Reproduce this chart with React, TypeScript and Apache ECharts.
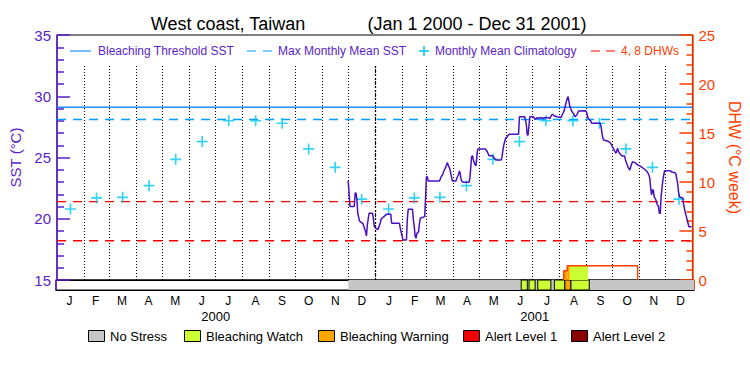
import React, { useEffect, useRef } from 'react';
import * as echarts from 'echarts';

// ---------- data ----------
const titlePlace = 'West coast, Taiwan';
const titleRange = '(Jan 1 2000 - Dec 31 2001)';
const monthLetters = ['J', 'F', 'M', 'A', 'M', 'J', 'J', 'A', 'S', 'O', 'N', 'D'];
const years = [2000, 2001];

// Monthly mean climatology (SST, deg C), Jan..Dec
const climatology = [20.8, 21.7, 21.75, 22.7, 24.85, 26.3, 28.0, 28.0, 27.8, 25.7, 24.2, 21.6];
const bleachingThreshold = 29.1;
const maxMonthlyMean = 28.1;
const dhwLevels = [4, 8];

// Satellite SST (deg C)
const sstDates = [
  '2000-12-01', '2000-12-02', '2000-12-03', '2000-12-08', '2000-12-09', '2000-12-10', '2000-12-11', '2000-12-12',
  '2000-12-14', '2000-12-18', '2000-12-21', '2000-12-22', '2000-12-23', '2000-12-25', '2000-12-29', '2000-12-30',
  '2000-12-31', '2001-01-04', '2001-01-05', '2001-01-07', '2001-01-08', '2001-01-10', '2001-01-14', '2001-01-19',
  '2001-01-20', '2001-01-29', '2001-01-30', '2001-01-31', '2001-02-02', '2001-02-06', '2001-02-07', '2001-02-08',
  '2001-02-13', '2001-02-14', '2001-02-15', '2001-02-16', '2001-02-17', '2001-02-18', '2001-02-20', '2001-02-21',
  '2001-02-22', '2001-02-27', '2001-02-28', '2001-03-01', '2001-03-02', '2001-03-03', '2001-03-16', '2001-03-17',
  '2001-03-18', '2001-03-20', '2001-03-21', '2001-03-23', '2001-03-25', '2001-03-26', '2001-03-28', '2001-03-29',
  '2001-03-30', '2001-03-31', '2001-04-04', '2001-04-05', '2001-04-07', '2001-04-08', '2001-04-09', '2001-04-10',
  '2001-04-12', '2001-04-19', '2001-04-20', '2001-04-22', '2001-04-23', '2001-04-24', '2001-04-26', '2001-04-27',
  '2001-04-28', '2001-04-29', '2001-05-08', '2001-05-10', '2001-05-12', '2001-05-16', '2001-05-18', '2001-05-20',
  '2001-05-26', '2001-05-27', '2001-05-28', '2001-05-29', '2001-05-31', '2001-06-02', '2001-06-04', '2001-06-15',
  '2001-06-16', '2001-06-22', '2001-06-23', '2001-06-24', '2001-06-25', '2001-06-26', '2001-06-27', '2001-06-28',
  '2001-07-02', '2001-07-04', '2001-07-05', '2001-07-06', '2001-07-08', '2001-07-10', '2001-07-11', '2001-07-13',
  '2001-07-15', '2001-07-19', '2001-07-21', '2001-07-23', '2001-07-24', '2001-07-26', '2001-07-29', '2001-08-02',
  '2001-08-03', '2001-08-04', '2001-08-06', '2001-08-07', '2001-08-08', '2001-08-09', '2001-08-10', '2001-08-11',
  '2001-08-12', '2001-08-13', '2001-08-14', '2001-08-15', '2001-08-17', '2001-08-19', '2001-08-21', '2001-08-23',
  '2001-08-31', '2001-09-01', '2001-09-02', '2001-09-03', '2001-09-06', '2001-09-07', '2001-09-17', '2001-09-18',
  '2001-09-19', '2001-09-20', '2001-09-21', '2001-09-25', '2001-09-27', '2001-09-29', '2001-09-30', '2001-10-02',
  '2001-10-04', '2001-10-05', '2001-10-07', '2001-10-08', '2001-10-10', '2001-10-12', '2001-10-15', '2001-10-16',
  '2001-10-18', '2001-10-19', '2001-10-21', '2001-10-22', '2001-10-24', '2001-10-27', '2001-10-30', '2001-11-02',
  '2001-11-04', '2001-11-07', '2001-11-10', '2001-11-12', '2001-11-13', '2001-11-14', '2001-11-15', '2001-11-16',
  '2001-11-17', '2001-11-18', '2001-11-20', '2001-11-21', '2001-11-23', '2001-11-24', '2001-11-25', '2001-11-26',
  '2001-11-28', '2001-11-29', '2001-11-30', '2001-12-06', '2001-12-08', '2001-12-12', '2001-12-13', '2001-12-15',
  '2001-12-16', '2001-12-17', '2001-12-21', '2001-12-22', '2001-12-24', '2001-12-25', '2001-12-26', '2001-12-28',
  '2001-12-31',
];
const sstValues = [
  23.1, 22.1, 21.0, 21.0, 22.1, 22.1, 21.6, 20.45,
  19.8, 19.6, 18.95, 18.6, 19.5, 20.45, 20.45, 20.0,
  19.35, 19.1, 19.25, 19.7, 20.0, 20.1, 20.36, 20.36,
  19.63, 19.63, 19.2, 18.9, 18.27, 18.27, 19.9, 20.77,
  20.77, 19.9, 19.35, 18.6, 18.4, 18.8, 18.95, 19.63,
  20.04, 20.17, 21.67, 23.43, 23.43, 23.08, 23.08, 23.25,
  23.43, 23.65, 23.9, 24.17, 24.58, 24.4, 24.06, 23.71,
  23.35, 23.08, 23.08, 23.3, 23.63, 23.9, 23.63, 23.16,
  22.97, 22.97, 23.3, 25.07, 25.15, 24.8, 24.39, 24.34,
  25.07, 25.69, 25.69, 25.47, 25.15, 25.15, 24.93, 24.8,
  24.8, 25.07, 25.6, 26.02, 26.56, 26.7, 26.9, 26.9,
  28.33, 28.33, 28.06, 27.65, 26.84, 26.84, 27.65, 28.33,
  28.33, 28.12, 28.12, 28.25, 28.2, 28.25, 28.25, 28.2,
  28.25, 28.25, 28.2, 28.47, 28.53, 28.41, 28.33, 28.28,
  28.28, 28.47, 28.74, 29.0, 29.29, 29.56, 29.83, 29.97,
  29.56, 29.15, 29.0, 28.8, 28.6, 28.33, 28.47, 28.8,
  28.82, 28.74, 28.47, 28.2, 27.98, 27.79, 27.79, 27.51,
  26.97, 26.56, 26.43, 26.35, 26.29, 26.16, 26.02, 25.75,
  25.47, 25.34, 25.75, 25.47, 25.29, 25.12, 25.12, 24.8,
  24.39, 24.2, 23.98, 24.25, 24.66, 24.58, 24.39, 24.3,
  24.2, 24.04, 23.84, 23.57, 23.3, 22.48, 21.94, 22.35,
  22.35, 21.8, 21.53, 21.26, 20.99, 20.44, 20.44, 21.8,
  23.16, 23.57, 23.92, 23.92, 23.82, 23.76, 23.65, 22.89,
  22.2, 21.8, 21.67, 21.12, 20.44, 20.17, 19.9, 19.35,
  19.35,
];

// Degree heating weeks (deg C week), step values
const dhwDates = ['2001-08-06', '2001-08-06', '2001-08-10', '2001-10-30'];
const dhwValues = [0, 0.95, 1.46, 0];

// Area under DHW coloured by stress level
const dhwFillStart = ['2001-08-06', '2001-08-10', '2001-08-13'];
const dhwFillEnd = ['2001-08-10', '2001-08-13', '2001-09-03'];
const dhwFillValue = [0.95, 1.46, 1.46];
const dhwFillLevel = [2, 2, 1];

// Stress level bar: 0 no stress, 1 watch, 2 warning, 3 alert 1, 4 alert 2
const stressStart = ['2000-12-01', '2001-06-17', '2001-06-26', '2001-07-06', '2001-07-25', '2001-08-06', '2001-08-13'];
const stressEnd = ['2002-01-01', '2001-06-24', '2001-07-03', '2001-07-21', '2001-08-06', '2001-08-13', '2001-09-03'];
const stressLevel = [0, 1, 1, 1, 1, 2, 1];
const stressNames = ['No Stress', 'Bleaching Watch', 'Bleaching Warning', 'Alert Level 1', 'Alert Level 2'];

// ---------- style ----------
const FONT = 'Liberation Sans, Arial, sans-serif';
const PURPLE = '#5a1ec8';
const LINE_PURPLE = '#4a10c0';
const ORANGE = '#ff4000';
const BLUE = '#1e90ff';
const MMM_BLUE = '#00a0ff';
const CYAN = '#00c8f0';
const RED = '#ff0000';
const STRESS_COLORS = ['#c6c6c6', '#ccff33', '#ffa500', '#f00000', '#8b0000'];

const ts = (s: string) => {
  const [y, m, d] = s.split('-').map(Number);
  return new Date(y, m - 1, d).getTime();
};
const T0 = new Date(years[0], 0, 1).getTime();
const T1 = new Date(years[years.length - 1] + 1, 0, 1).getTime();

const monthStarts: number[] = [];
const monthMids: number[] = [];
years.forEach((y) => {
  for (let m = 0; m < 12; m++) {
    const a = new Date(y, m, 1).getTime();
    const b = new Date(y, m + 1, 1).getTime();
    if (a > T0) monthStarts.push(a);
    monthMids.push((a + b) / 2);
  }
});
const yearStarts = years.slice(1).map((y) => new Date(y, 0, 1).getTime());
const yearMids = years.map((y) => (new Date(y, 0, 1).getTime() + new Date(y + 1, 0, 1).getTime()) / 2);

const PLUS = 'path://M8.5,0H11.5V8.5H20V11.5H11.5V20H8.5V11.5H0V8.5H8.5Z';

function rectItem(params: any, api: any) {
  const p0 = api.coord([api.value(0), api.value(3)]);
  const p1 = api.coord([api.value(1), api.value(2)]);
  const lvl = api.value(4);
  const stroked = api.value(5) === 1 && lvl > 0;
  return {
    type: 'rect',
    shape: { x: p0[0], y: p0[1], width: p1[0] - p0[0], height: p1[1] - p0[1] },
    style: { fill: STRESS_COLORS[lvl], stroke: stroked ? '#000' : null, lineWidth: 1 },
  };
}

function hline(name: string, yAxisIndex: number, v: number, color: string, type: any) {
  return {
    type: 'line', name, xAxisIndex: 0, yAxisIndex, data: [[T0, v], [T1, v]],
    showSymbol: false, silent: true, z: 3,
    lineStyle: { color, width: 1.4, type },
  };
}

function buildOption() {
  const legendY = 51;
  const bottomLegendX = [88, 184, 318, 463, 571];
  const graphic: any[] = [
    { type: 'text', x: 228, y: 24, style: { text: titlePlace, align: 'center', verticalAlign: 'middle', fontSize: 18, fontFamily: FONT, fill: '#000' } },
    { type: 'text', x: 477, y: 24, style: { text: titleRange, align: 'center', verticalAlign: 'middle', fontSize: 18, fontFamily: FONT, fill: '#000' } },
    { type: 'line', shape: { x1: 70, y1: legendY, x2: 91, y2: legendY }, style: { stroke: BLUE, lineWidth: 1.2 } },
    { type: 'text', x: 98, y: legendY, style: { text: 'Bleaching Threshold SST', verticalAlign: 'middle', fontSize: 12, fontFamily: FONT, fill: PURPLE } },
    { type: 'line', shape: { x1: 247, y1: legendY, x2: 272, y2: legendY }, style: { stroke: MMM_BLUE, lineWidth: 1.2, lineDash: [9, 7] } },
    { type: 'text', x: 278, y: legendY, style: { text: 'Max Monthly Mean SST', verticalAlign: 'middle', fontSize: 12, fontFamily: FONT, fill: PURPLE } },
    { type: 'line', shape: { x1: 419, y1: legendY, x2: 429, y2: legendY }, style: { stroke: CYAN, lineWidth: 1.5 } },
    { type: 'line', shape: { x1: 424, y1: legendY - 5, x2: 424, y2: legendY + 5 }, style: { stroke: CYAN, lineWidth: 1.5 } },
    { type: 'text', x: 435, y: legendY, style: { text: 'Monthly Mean Climatology', verticalAlign: 'middle', fontSize: 12, fontFamily: FONT, fill: PURPLE } },
    { type: 'line', shape: { x1: 591, y1: legendY, x2: 615, y2: legendY }, style: { stroke: RED, lineWidth: 1.2, lineDash: [9, 6] } },
    { type: 'text', x: 621, y: legendY, style: { text: '4, 8 DHWs', verticalAlign: 'middle', fontSize: 12, fontFamily: FONT, fill: ORANGE } },
  ];
  stressNames.forEach((name, i) => {
    const x = bottomLegendX[i];
    graphic.push({ type: 'rect', shape: { x: x + 0.5, y: 330.5, width: 16, height: 11 }, style: { fill: STRESS_COLORS[i], stroke: '#000', lineWidth: 1 } });
    graphic.push({ type: 'text', x: x + 22, y: 336, style: { text: name, verticalAlign: 'middle', fontSize: 13, fontFamily: FONT, fill: '#000' } });
  });

  const sstData = sstDates.map((d, i) => [ts(d), sstValues[i]]);
  const climData: number[][] = [];
  years.forEach((y, yi) => {
    climatology.forEach((v, m) => climData.push([monthMids[yi * 12 + m], v]));
  });
  const dhwData = dhwDates.map((d, i) => [ts(d), dhwValues[i]]);
  const dhwFillData = dhwFillStart.map((d, i) => [ts(d), ts(dhwFillEnd[i]), 0, dhwFillValue[i], dhwFillLevel[i], 0]);
  const stressData = stressStart.map((d, i) => [ts(d), ts(stressEnd[i]), 0, 1, stressLevel[i], 1]);

  return {
    animation: false,
    backgroundColor: '#fff',
    textStyle: { fontFamily: FONT },
    grid: [
      { left: 56, top: 35, width: 638, height: 245, show: true, borderColor: '#000', borderWidth: 1, backgroundColor: 'transparent' },
      { left: 56, top: 280, width: 638, height: 10, show: true, borderColor: '#000', borderWidth: 1, backgroundColor: 'transparent' },
    ],
    xAxis: [
      {
        type: 'value', gridIndex: 0, min: T0, max: T1, position: 'bottom',
        axisLine: { show: true, lineStyle: { color: '#000', width: 1 } },
        axisTick: { show: true, inside: true, length: 215, customValues: monthStarts, lineStyle: { color: '#000', width: 1, type: [1, 2] } },
        axisLabel: { show: false },
        splitLine: { show: false },
      },
      {
        type: 'value', gridIndex: 1, min: T0, max: T1, position: 'bottom',
        axisLine: { show: true, lineStyle: { color: '#000', width: 1 } },
        axisTick: { show: false },
        axisLabel: {
          show: true, customValues: monthMids, margin: 5, fontSize: 12, color: '#000', fontFamily: FONT,
          formatter: (v: number) => monthLetters[new Date(v).getMonth()],
        },
        splitLine: { show: false },
      },
      {
        type: 'value', gridIndex: 1, min: T0, max: T1, position: 'bottom', offset: 15,
        axisLine: { show: false }, axisTick: { show: false },
        axisLabel: {
          show: true, customValues: yearMids, margin: 5, fontSize: 13, color: '#000', fontFamily: FONT,
          formatter: (v: number) => String(new Date(v).getFullYear()),
        },
        splitLine: { show: false },
      },
      {
        type: 'value', gridIndex: 0, min: T0, max: T1, position: 'bottom',
        axisLine: { show: false },
        axisTick: { show: true, inside: true, length: 215, customValues: yearStarts, lineStyle: { color: '#000', width: 1.3, type: [2, 2] } },
        axisLabel: { show: false },
        splitLine: { show: false },
      },
    ],
    yAxis: [
      {
        type: 'value', gridIndex: 0, min: 15, max: 35, interval: 5, position: 'left',
        axisLine: { show: true, lineStyle: { color: PURPLE, width: 1.5 } },
        axisTick: { show: true, inside: true, length: 13, lineStyle: { color: PURPLE, width: 1.5 } },
        minorTick: { show: true, splitNumber: 5, length: 7, lineStyle: { color: PURPLE, width: 1.5 } },
        axisLabel: { color: PURPLE, fontSize: 15, margin: 6, fontFamily: FONT },
        splitLine: { show: false },
        name: 'SST (°C)', nameLocation: 'middle', nameGap: 34, nameRotate: 90,
        nameTextStyle: { color: PURPLE, fontSize: 15, fontFamily: FONT },
      },
      {
        type: 'value', gridIndex: 0, min: 0, max: 25, interval: 5, position: 'right',
        axisLine: { show: true, lineStyle: { color: ORANGE, width: 1.5 } },
        axisTick: { show: true, inside: true, length: 13, lineStyle: { color: ORANGE, width: 1.5 } },
        minorTick: { show: true, splitNumber: 5, length: 6, lineStyle: { color: ORANGE, width: 1.5 } },
        axisLabel: { color: ORANGE, fontSize: 15, margin: 6, fontFamily: FONT },
        splitLine: { show: false },
        name: 'DHW (°C week)', nameLocation: 'middle', nameGap: 31, nameRotate: -90,
        nameTextStyle: { color: ORANGE, fontSize: 16, fontFamily: FONT },
      },
      {
        type: 'value', gridIndex: 1, min: 0, max: 1, position: 'left',
        axisLine: { show: true, lineStyle: { color: PURPLE, width: 1.5 } },
        axisTick: { show: false }, axisLabel: { show: false }, splitLine: { show: false },
      },
      {
        type: 'value', gridIndex: 1, min: 0, max: 1, position: 'right',
        axisLine: { show: true, lineStyle: { color: ORANGE, width: 1.5 } },
        axisTick: { show: false }, axisLabel: { show: false }, splitLine: { show: false },
      },
    ],
    series: [
      {
        type: 'custom', name: 'Stress level', xAxisIndex: 1, yAxisIndex: 2,
        renderItem: rectItem, encode: { x: [0, 1], y: [2, 3] }, data: stressData, z: 2, silent: true,
      },
      {
        type: 'custom', name: 'DHW fill', xAxisIndex: 0, yAxisIndex: 1,
        renderItem: rectItem, encode: { x: [0, 1], y: [2, 3] }, data: dhwFillData, z: 2, silent: true,
      },
      hline('Bleaching Threshold SST', 0, bleachingThreshold, BLUE, 'solid'),
      hline('Max Monthly Mean SST', 0, maxMonthlyMean, MMM_BLUE, [9, 7]),
      ...dhwLevels.map((v) => hline(`${v} DHWs`, 1, v, RED, [9, 7])),
      {
        type: 'line', name: 'DHW', xAxisIndex: 0, yAxisIndex: 1, data: dhwData, step: 'end',
        showSymbol: false, lineStyle: { color: ORANGE, width: 1.5 }, z: 3, silent: true,
      },
      {
        type: 'scatter', name: 'Monthly Mean Climatology', xAxisIndex: 0, yAxisIndex: 0, data: climData,
        symbol: PLUS, symbolSize: 11, itemStyle: { color: CYAN }, z: 4, silent: true,
      },
      {
        type: 'line', name: 'SST', xAxisIndex: 0, yAxisIndex: 0, data: sstData,
        showSymbol: false, lineStyle: { color: LINE_PURPLE, width: 1.5 }, z: 5, silent: true,
      },
    ],
    graphic,
  };
}

export default function App() {
  const ref = useRef<HTMLDivElement>(null);
  useEffect(() => {
    if (!ref.current) return;
    const chart = echarts.init(ref.current, null, { renderer: 'svg' });
    chart.setOption(buildOption() as any);
    return () => chart.dispose();
  }, []);
  return (
    <div
      ref={ref}
      style={{ position: 'fixed', left: 0, top: 0, width: 750, height: 375, background: '#fff' }}
    />
  );
}
